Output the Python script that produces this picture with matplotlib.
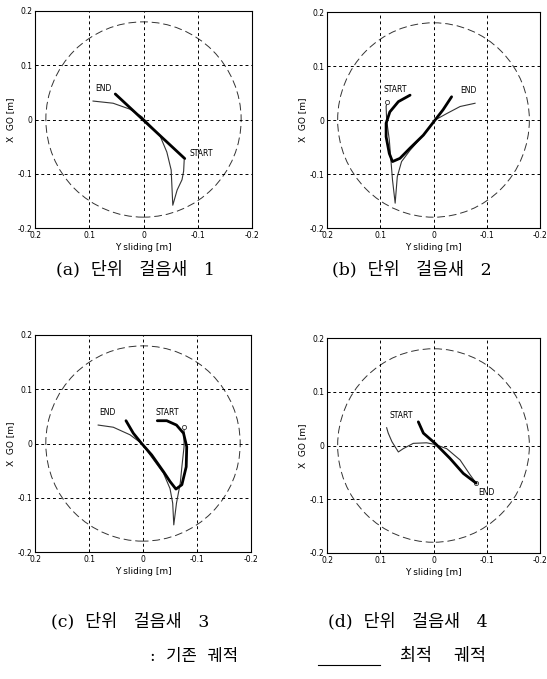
import matplotlib
matplotlib.use("Agg")
import matplotlib.pyplot as plt
from matplotlib.patches import Circle

plt.rcParams["font.family"] = ["DejaVu Sans"]

W, H = 547, 679
CIRCLE_R = 0.18  # m, stability region
TICKS = [0.2, 0.1, 0, -0.1, -0.2]
TICK_LABELS = ["0.2", "0.1", "0", "-0.1", "-0.2"]
GRID = [0.1, 0, -0.1]

# (a) unit gait 1
a_opt_x = [0.052, -0.076]
a_opt_y = [0.047, -0.072]
a_base_x = [0.093, 0.056, 0.025, 0.003, -0.030, -0.043, -0.051, -0.054, -0.062, -0.071, -0.074, -0.075]
a_base_y = [0.034, 0.030, 0.019, 0.005, -0.029, -0.060, -0.093, -0.158, -0.130, -0.111, -0.095, -0.075]

# (b) unit gait 2
b_opt_x = [0.044, 0.066, 0.082, 0.089, 0.089, 0.083, 0.077, 0.063, 0.044, 0.019, -0.003, -0.018, -0.034]
b_opt_y = [0.046, 0.034, 0.015, -0.006, -0.031, -0.062, -0.077, -0.071, -0.052, -0.028, 0.0, 0.019, 0.043]
b_base_x = [-0.078, -0.050, -0.025, -0.003, 0.019, 0.044, 0.060, 0.068, 0.072, 0.077, 0.080, 0.083, 0.088, 0.089, 0.087]
b_base_y = [0.031, 0.025, 0.012, 0.0, -0.028, -0.056, -0.077, -0.105, -0.154, -0.111, -0.074, -0.037, 0.0, 0.025, 0.034]

# (c) unit gait 3
c_opt_x = [0.0315, 0.018, 0.0025, -0.016, -0.038, -0.050, -0.061, -0.072, -0.080, -0.081, -0.075, -0.062, -0.044, -0.0265]
c_opt_y = [0.042, 0.019, 0.0, -0.021, -0.052, -0.070, -0.084, -0.076, -0.043, -0.006, 0.019, 0.034, 0.042, 0.042]
c_base_x = [0.083, 0.055, 0.024, 0.0025, -0.038, -0.050, -0.055, -0.057, -0.062, -0.069, -0.072, -0.076, -0.076, -0.076]
c_base_y = [0.034, 0.030, 0.016, 0.0, -0.055, -0.083, -0.110, -0.150, -0.110, -0.073, -0.043, -0.006, 0.016, 0.030]

# (d) unit gait 4
d_opt_x = [0.0285, 0.019, -0.003, -0.031, -0.056, -0.080]
d_opt_y = [0.044, 0.023, 0.004, -0.024, -0.052, -0.070]
d_base_x = [0.088, 0.085, 0.078, 0.066, 0.057, 0.038, 0.013, -0.003, -0.025, -0.050, -0.069, -0.080]
d_base_y = [0.033, 0.023, 0.007, -0.012, -0.006, 0.004, 0.005, 0.002, -0.006, -0.027, -0.055, -0.070]

panels = [
    (a_opt_x, a_opt_y, a_base_x, a_base_y, False),
    (b_opt_x, b_opt_y, b_base_x, b_base_y, True),
    (c_opt_x, c_opt_y, c_base_x, c_base_y, True),
    (d_opt_x, d_opt_y, d_base_x, d_base_y, True),
]
# START / END label spots (data coords)
labels = [
    [("END", 0.074, 0.058), ("START", -0.106, -0.062)],
    [("START", 0.071, 0.057), ("END", -0.065, 0.054)],
    [("END", 0.065, 0.057), ("START", -0.045, 0.057)],
    [("START", 0.061, 0.055), ("END", -0.100, -0.088)],
]
captions = ["(a)  단위   걸음새   1", "(b)  단위   걸음새   2",
            "(c)  단위   걸음새   3", "(d)  단위   걸음새   4"]

# axes boxes in pixels: left, top, right, bottom
boxes = [(35, 11, 252, 228), (327, 12, 540, 228), (35, 335, 251, 552), (327, 338, 540, 553)]
cap_pos = [(135, 270), (412, 270), (130, 622), (408, 622)]

fig = plt.figure(figsize=(W / 100, H / 100), dpi=100)

for i, (ox, oy, bx, by, mark) in enumerate(panels):
    l, t, r, b = boxes[i]
    ax = fig.add_axes([l / W, 1 - b / H, (r - l) / W, (b - t) / H])
    ax.set_xlim(0.2, -0.2)
    ax.set_ylim(-0.2, 0.2)
    for g in GRID:
        ax.axvline(g, color="black", lw=0.7, ls=(0, (3, 3)))
        ax.axhline(g, color="black", lw=0.7, ls=(0, (3, 3)))
    ax.add_patch(Circle((0, 0), CIRCLE_R, fill=False, ec="#333333", lw=0.7, ls=(0, (8, 4))))
    ax.plot(bx, by, color="#333333", lw=0.8)
    if mark:
        ax.plot(bx[-1], by[-1], marker="o", ms=3, mfc="white", mec="#333333", mew=0.6)
    ax.plot(ox, oy, color="black", lw=2.0, solid_capstyle="round")
    for txt, tx, ty in labels[i]:
        ax.text(tx, ty, txt, fontsize=5.5, ha="center", va="center")
    ax.set_xticks(TICKS)
    ax.set_xticklabels(TICK_LABELS)
    ax.set_yticks(TICKS[::-1])
    ax.set_yticklabels(TICK_LABELS[::-1])
    ax.tick_params(direction="in", length=2, width=0.6, labelsize=5.5, pad=2)
    for s in ax.spines.values():
        s.set_linewidth(0.8)
    ax.set_xlabel("Y sliding [m]", fontsize=6.5, labelpad=2)
    ax.set_ylabel("X  GO [m]", fontsize=6.5, labelpad=2)

kfont = ["DejaVu Serif", "Noto Sans CJK KR"]
for (cx, cy), cap in zip(cap_pos, captions):
    fig.text(cx / W, 1 - cy / H, cap, fontsize=12.5, ha="center", va="center", family=kfont)

# legend line at the bottom
fig.text(150 / W, 1 - 656 / H, ":  기존  궤적", fontsize=12, ha="left", va="center", family=kfont)
fig.add_artist(plt.Line2D([318 / W, 380 / W], [1 - 665 / H, 1 - 665 / H], color="black", lw=0.8))
fig.text(400 / W, 1 - 656 / H, "최적    궤적", fontsize=12.5, ha="left", va="center", family=kfont)

fig.savefig("out.png", dpi=100)
